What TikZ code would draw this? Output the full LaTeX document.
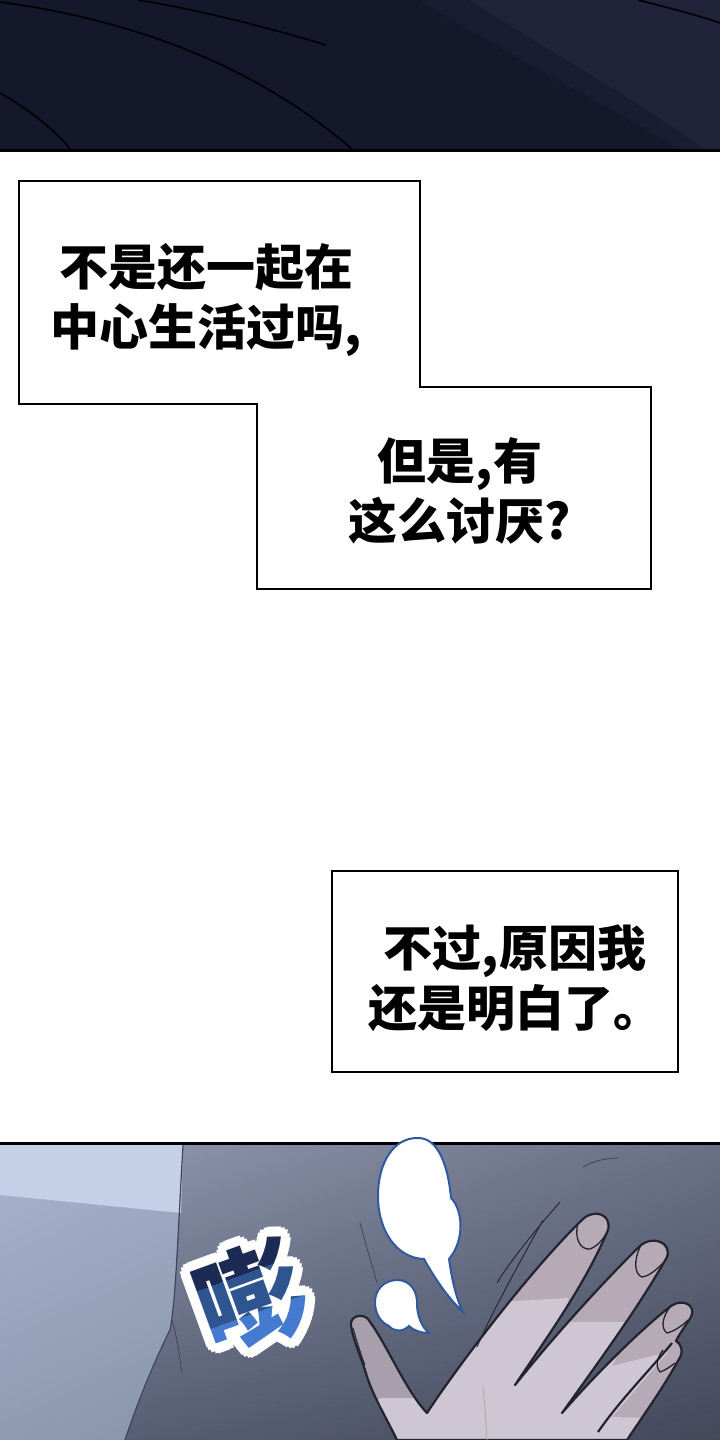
\documentclass[tikz,border=0pt]{standalone}
\usepackage{fontspec}
\newfontfamily\cjk{Noto Sans CJK SC}
\usetikzlibrary{shadings}
\definecolor{nightA}{HTML}{15172A}
\definecolor{nightB}{HTML}{20233A}
\definecolor{cloth1}{HTML}{A8B4CD}
\definecolor{cloth2}{HTML}{A0ACC5}
\definecolor{cloth3}{HTML}{8F9AB3}
\definecolor{cloth4}{HTML}{8892AB}
\definecolor{shade1}{HTML}{8C95AC}
\definecolor{shade2}{HTML}{6A7086}
\definecolor{shade3}{HTML}{575D73}
\definecolor{shade4}{HTML}{43485B}
\definecolor{cuffLight}{HTML}{C3D0E8}
\definecolor{foldline}{HTML}{3E4560}
\definecolor{balloonblue}{HTML}{2F5A9E}
\definecolor{sfxA}{HTML}{1C2B54}
\definecolor{sfxB}{HTML}{2E558F}
\definecolor{sfxC}{HTML}{447ACF}
\definecolor{handbase}{HTML}{B6AAB7}
\definecolor{handthumb}{HTML}{A89FAD}
\definecolor{handlight}{HTML}{CEC7D3}
\definecolor{handink}{HTML}{23242E}
\newcommand\handshape{(397,1440) .. controls (385,1415) and (372,1395) .. (365,1370) .. controls (358,1350) and (352,1335) .. (351,1325) .. controls (350,1317) and (360,1313) .. (367,1318) .. controls (385,1340) and (405,1390) .. (427,1413) .. controls (455,1370) and (530,1270) .. (583,1219) .. controls (595,1208) and (612,1215) .. (608,1230) .. controls (585,1285) and (545,1340) .. (515,1385) .. controls (555,1335) and (605,1280) .. (640,1246) .. controls (652,1235) and (672,1242) .. (667,1257) .. controls (640,1305) and (600,1360) .. (562,1413) .. controls (595,1375) and (640,1330) .. (671,1306) .. controls (682,1298) and (697,1305) .. (691,1317) .. controls (686,1325) and (680,1333) .. (676,1341) .. controls (681,1343) and (684,1352) .. (679,1359) .. controls (662,1390) and (640,1420) .. (627,1440) -- cycle}
\begin{document}
\begin{tikzpicture}[x=1pt, y=-1pt,
    caption/.style={draw, line width=2pt, fill=white, line join=miter},
    caption text/.style={font=\cjk\bfseries\fontsize{49}{60}\selectfont, align=center, inner sep=0pt},
    sfx/.style={font=\cjk\bfseries\fontsize{110}{110}\selectfont, inner sep=0pt, transform shape},
    balloon/.style={fill=white, draw=balloonblue, line width=2pt},
    ink/.style={draw=black, line width=1.6pt},
    fold/.style={draw=foldline, line width=1.2pt},
    handline/.style={draw=handink, line width=2.2pt, line join=round}]
  \useasboundingbox (0,0) rectangle (720,1440);
  \fill[white] (0,0) rectangle (720,1440);

  % top panel
  \fill[nightA] (0,0) rectangle (720,150);
  \fill[nightB, opacity=.5] (420,0) .. controls (490,45) and (590,95) .. (680,150) -- (720,150) -- (720,0) -- cycle;
  \fill[nightB] (470,0) .. controls (530,40) and (625,92) .. (706,150) -- (720,150) -- (720,0) -- cycle;
  \draw[ink] (0,2) .. controls (120,18) and (250,60) .. (353,150);
  \draw[ink] (0,93) .. controls (30,110) and (55,130) .. (71,150);
  \draw[ink] (138,0) .. controls (200,10) and (270,28) .. (326,45);
  \draw[ink] (638,0) .. controls (670,8) and (700,16) .. (720,23);
  \draw[line width=3pt] (0,150) -- (720,150);

  % captions
  \draw[caption] (19,181) -- (420,181) -- (420,387) -- (651,387) -- (651,589) -- (257,589) -- (257,404) -- (19,404) -- cycle;
  \node[caption text] (line1) at (206,300) {不是还一起在\\中心生活过吗,};
  \node[caption text] (line2) at (460,491) {但是,有\\这么讨厌?};
  \draw[caption] (332,871) rectangle (678,1072);
  \node[caption text] (line3) at (515,978) {不过,原因我\\还是明白了。};

  % bottom panel
  \begin{scope}
    \clip (0,1143) rectangle (720,1440);
    \shade[upper left=cloth1, upper right=cloth2, lower left=cloth3, lower right=cloth4] (0,1143) rectangle (200,1440);
    \shade[upper left=shade1, upper right=shade2, lower left=shade3, lower right=shade4] (183,1143) .. controls (178,1230) and (176,1300) .. (170,1330) .. controls (150,1370) and (135,1410) .. (125,1440) -- (720,1440) -- (720,1143) -- cycle;
    \fill[cuffLight] (0,1143) -- (183,1143) -- (181,1213) -- (0,1195) -- cycle;
    \draw[fold] (183,1145) .. controls (178,1230) and (176,1300) .. (170,1330) .. controls (150,1370) and (135,1410) .. (125,1440);
    \draw[fold, line width=.8pt] (172,1320) .. controls (178,1340) and (180,1360) .. (182,1373);
    \draw[fold, line width=.8pt] (360,1223) .. controls (366,1245) and (372,1265) .. (377,1283);
    \draw[fold, line width=.8pt] (583,1167) .. controls (595,1160) and (608,1158) .. (619,1158);
  \end{scope}
  \draw[line width=3pt] (0,1143) -- (720,1143);

  % hand
  \fill[handbase] \handshape;
  \begin{scope}
    \clip \handshape;
    \fill[handthumb] (340,1310) -- (380,1310) -- (430,1420) -- (400,1440) -- (340,1440) -- cycle;
    \fill[handlight] (365,1440) .. controls (368,1420) and (372,1405) .. (380,1398) -- (430,1398) -- (500,1302) -- (568,1298) -- (570,1322) -- (635,1322) -- (612,1366) -- (668,1352) -- (612,1417) -- (650,1418) -- (645,1440) -- cycle;
  \end{scope}
  \draw[handline] \handshape;
  \draw[handline] (672,1343) .. controls (650,1370) and (620,1400) .. (598,1432);
  \draw[handline, line width=1.3pt] (578,1223) .. controls (574,1238) and (580,1250) .. (590,1249) .. controls (598,1246) and (604,1238) .. (607,1232);
  \draw[handline, line width=1.3pt] (640,1247) .. controls (634,1260) and (634,1274) .. (642,1277) .. controls (650,1276) and (658,1268) .. (663,1263);
  \draw[handline, line width=1.3pt] (670,1307) .. controls (663,1316) and (660,1328) .. (667,1333) .. controls (675,1331) and (683,1325) .. (688,1320);
  \draw[handline, line width=1.3pt] (663,1350) .. controls (657,1358) and (655,1366) .. (660,1372) .. controls (666,1370) and (671,1366) .. (675,1363);
  \draw[handline, line width=1pt] (353,1328) .. controls (357,1342) and (361,1355) .. (365,1365);
  \draw[handline, line width=.8pt, draw=handink!40] (483,1387) .. controls (485,1405) and (486,1425) .. (487,1440);
  \draw[handline, line width=.9pt] (560,1202) .. controls (540,1225) and (512,1258) .. (497,1283);
  \draw[handline, line width=.9pt] (543,1220) .. controls (520,1262) and (492,1312) .. (477,1347);

  % balloons
  \draw[balloon] (417,1138) .. controls (438,1137) and (448,1165) .. (451,1198) .. controls (463,1210) and (465,1240) .. (449,1259) .. controls (452,1280) and (456,1298) .. (463,1312) .. controls (446,1296) and (433,1275) .. (424,1259) .. controls (396,1258) and (378,1230) .. (378,1196) .. controls (378,1162) and (394,1138) .. (417,1138) -- cycle;
  \draw[balloon] (397,1280) .. controls (411,1280) and (418,1292) .. (417,1306) .. controls (418,1318) and (422,1327) .. (429,1333) .. controls (420,1333) and (413,1330) .. (409,1326) .. controls (403,1332) and (394,1332) .. (389,1326) .. controls (380,1322) and (375,1313) .. (375,1302) .. controls (375,1289) and (385,1280) .. (397,1280) -- cycle;

  % sound effect
  \begin{scope}[shift={(251,1298)}, rotate=20]
    \foreach \a in {0,22.5,...,337.5}
      \node[sfx, text=white] (halo-\a) at (\a:10) {嘭};
    \foreach \a in {0,45,...,315}
      \node[sfx, text=white] (halo-in-\a) at (\a:5) {嘭};
    \foreach \i/\c in {0/sfxA,1/sfxB,2/sfxC} {
      \begin{scope}
        \clip (-90,-65+40*\i) rectangle (90,-25+40*\i);
        \node[sfx, text=\c] (peng-\i) at (0,0) {嘭};
      \end{scope}
    }
  \end{scope}
\end{tikzpicture}
\end{document}
